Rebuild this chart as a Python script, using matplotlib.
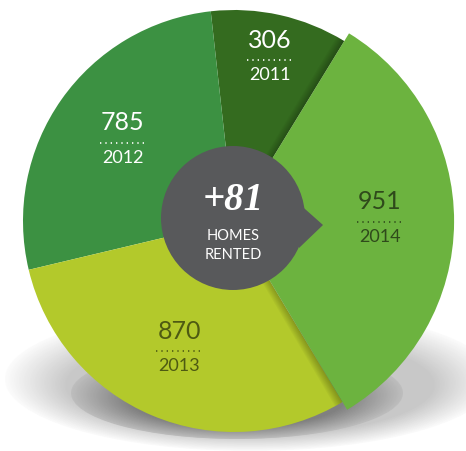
import numpy as np
import matplotlib
matplotlib.use("Agg")
import matplotlib.pyplot as plt
from matplotlib.patches import Circle, Ellipse, Polygon, Wedge

# data
years = ["2011", "2012", "2013", "2014"]
homes = [306, 785, 870, 951]
colors = ["#346b1f", "#3c9142", "#b3c92b", "#6cb33f"]
text_colors = ["white", "white", "#4e5a12", "#2f4a1b"]
headline = "+81"
caption = ["HOMES", "RENTED"]

fig = plt.figure(figsize=(4.66, 4.51), dpi=100)
ax = fig.add_axes([0, 0, 1, 1])

cx, cy, r = 234, 230, 211

# soft floor shadow under the pie
n = 40
for i in range(n):
    t = i / (n - 1)
    g = 0.985 - 0.2 * t
    ax.add_patch(Ellipse((250, 72 - 6 * t), 490 * (1 - 0.25 * t), 144 * (1 - 0.3 * t),
                         facecolor=(g, g, g), lw=0, zorder=1))
for i in range(n):
    t = i / (n - 1)
    g = 0.74 - 0.24 * t
    ax.add_patch(Ellipse((237, 58 - 6 * t), 332 * (1 - 0.35 * t), 92 * (1 - 0.4 * t),
                         facecolor=(g, g, g), lw=0, zorder=1))

wedges, _ = ax.pie(homes, colors=colors, startangle=58.5, counterclock=True,
                   center=(cx, cy), radius=r, explode=[0, 0, 0, 0.02],
                   wedgeprops=dict(linewidth=0, zorder=2))

# the 2014 slice sticks out a bit further
big = wedges[3]
big.set_radius(r * 1.043)
big.set_zorder(4)

# shadow cast by the raised slice onto its neighbours
clip = Circle((cx, cy), r, transform=ax.transData)
for k in range(7):
    sh = Wedge((big.center[0] - 1.3 * k, big.center[1]), r * 1.05, big.theta1 - 0.5, big.theta2 + 0.5,
               facecolor="black", alpha=0.035, lw=0, zorder=3)
    ax.add_patch(sh)
    sh.set_clip_path(clip)

# labels: value, dotted rule, year
dists = [0.78, 0.645, 0.67, 0.69]
for w, yr, val, tc, d in zip(wedges, years, homes, text_colors, dists):
    mid = np.deg2rad((w.theta1 + w.theta2) / 2)
    x = w.center[0] + d * r * np.cos(mid)
    y = w.center[1] + d * r * np.sin(mid)
    ax.text(x, y + 20, str(val), ha="center", va="center", fontsize=18, color=tc,
            family="Lato", zorder=6)
    ax.plot([x - 23, x + 23], [y, y], color=tc, lw=1.2, ls=(0, (0.8, 2.4)), zorder=6)
    ax.text(x, y - 15, yr, ha="center", va="center", fontsize=13, color=tc,
            family="Lato", zorder=6)

# centre bubble with a pointer toward 2014
bx, by, br = 233, 233, 72
ax.add_patch(Circle((bx, by), br, facecolor="#58595b", lw=0, zorder=7))
ax.add_patch(Polygon([(296, 250), (323, 226), (299, 203)], closed=True,
                     facecolor="#58595b", lw=0, zorder=7))
ax.text(bx, by + 17, headline, ha="center", va="center", fontsize=28, color="white",
        family="Liberation Serif", fontstyle="italic", fontweight="bold", zorder=8)
ax.text(bx, by - 18, caption[0], ha="center", va="center", fontsize=10.5, color="white",
        family="Lato", zorder=8)
ax.text(bx, by - 37, caption[1], ha="center", va="center", fontsize=10.5, color="white",
        family="Lato", zorder=8)

ax.set_xlim(0, 466)
ax.set_ylim(0, 451)
ax.set_aspect("equal")
ax.axis("off")

fig.savefig("out.png", dpi=100)
